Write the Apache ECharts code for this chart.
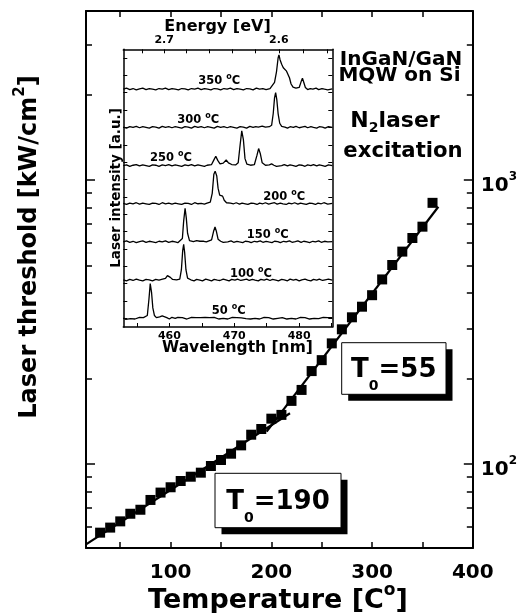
<!DOCTYPE html>
<html>
<head>
<meta charset="utf-8">
<script src="https://cdn.jsdelivr.net/npm/echarts@6/dist/echarts.min.js"></script>
<style>
  html, body { margin: 0; padding: 0; background: #fff; }
  #chart { width: 520px; height: 613px; }
</style>
</head>
<body>
<div id="chart"></div>
<script>
// ---- Laser threshold vs temperature ----
const temperatures = [30, 40, 50, 60, 70, 80, 90, 100, 110, 120, 130, 140, 150, 160, 170, 180, 190,
                      200, 210, 220, 230, 240, 250, 260, 270, 280, 290, 300, 310, 320, 330, 340, 350, 360];
const thresholds = [57.3, 59.7, 62.8, 66.8, 69.0, 74.7, 79.3, 82.8, 87.1, 90.2, 93.2, 98.4, 103.3, 108.7, 116.3, 126.8, 132.8,
                    144.4, 148.9, 166.8, 182.3, 212.4, 232.1, 265.9, 298, 328.5, 358, 393, 446.6, 502, 559.6, 625, 685, 831];
// exponential fits (straight on the log axis), given by their end points
const fitLowT  = [[16, 52.1], [218.5, 150.9]];   // T0 = 190
const fitHighT = [[195.3, 130], [365.8, 805]];   // T0 = 55

const tempTicks  = [50, 100, 150, 200, 250, 300, 350, 400];
const tempLabels = [100, 200, 300, 400];
const thrMajor   = [100, 1000];
const thrMinor   = [60, 70, 80, 90, 200, 300, 400, 500, 600, 700, 800, 900, 2000, 3000];

// ---- Inset: lasing spectra, stacked ----
const spectrumTemps = [50, 100, 150, 200, 250, 300, 350];
const spec50 = [[452.9,0.01],[453.3,-0.03],[453.6,0.02],[454.0,-0.01],[454.3,0.03],[454.7,-0.02],[455.0,0.01],[455.4,0.03],[455.7,-0.01],[456.0,0.02],[456.3,0.01],[456.6,0.08],[456.85,0.55],[457.05,1.0],[457.25,0.75],[457.45,0.3],[457.7,0.08],[458.0,0.02],[458.5,0.04],[458.9,0.07],[459.2,0.06],[459.6,0.02],[460.0,-0.02],[460.4,0.03],[460.9,0.00],[461.3,0.03],[461.6,-0.02],[462.0,0.02],[462.3,0.03],[462.7,-0.02],[463.0,0.01],[463.4,0.03],[463.7,-0.01],[464.1,0.02],[464.4,-0.03],[464.8,0.02],[465.1,0.00],[465.5,0.03],[465.8,-0.02],[466.2,0.02],[466.5,-0.01],[466.9,0.03],[467.2,0.00],[467.6,-0.02],[467.9,0.02],[468.3,0.00],[468.6,0.03],[469.0,-0.02],[469.3,0.01],[469.7,0.03],[470.0,-0.01],[470.4,0.02],[470.7,-0.02],[471.1,0.01],[471.4,0.03],[471.8,-0.01],[472.1,0.02],[472.5,-0.02],[472.8,0.03],[473.2,0.00],[473.5,0.02],[473.9,-0.02],[474.2,0.01],[474.6,0.03],[474.9,-0.01],[475.3,0.02],[475.6,0.00],[476.0,-0.02],[476.3,0.03],[476.7,0.00],[477.0,-0.02],[477.4,0.02],[477.7,0.01],[478.1,-0.02],[478.4,0.03],[478.8,0.00],[479.1,0.02],[479.5,-0.02],[479.8,0.01],[480.2,0.03],[480.5,-0.01],[480.9,0.02],[481.2,0.00],[481.6,-0.02],[481.9,0.02],[482.3,0.00],[482.6,0.03],[483.0,-0.01],[483.3,0.01],[483.7,0.03],[484.0,-0.02],[484.4,0.02],[484.7,0.00],[485.1,0.02]];
const spec100 = [[452.9,0.01],[453.4,-0.02],[453.9,0.02],[454.4,-0.01],[454.9,0.03],[455.4,0.00],[455.9,-0.02],[456.4,0.02],[456.9,0.01],[457.4,-0.02],[457.9,0.02],[458.4,0.00],[458.8,0.02],[459.4,0.05],[459.7,0.13],[459.9,0.16],[460.15,0.08],[460.5,0.02],[461.1,0.01],[461.6,0.03],[461.85,0.3],[462.05,0.85],[462.2,1.03],[462.35,0.8],[462.55,0.3],[462.8,0.06],[463.3,0.01],[463.8,-0.02],[464.2,0.02],[464.7,0.00],[465.1,-0.02],[465.6,0.03],[466.0,0.01],[466.5,-0.02],[466.9,0.02],[467.4,0.00],[467.8,-0.01],[468.3,0.03],[468.7,0.01],[469.2,-0.02],[469.6,0.02],[470.1,0.00],[470.5,0.03],[471.0,-0.01],[471.4,0.01],[471.9,0.03],[472.3,-0.01],[472.8,0.02],[473.2,0.00],[473.7,-0.02],[474.1,0.02],[474.6,0.00],[475.0,0.03],[475.5,-0.01],[475.9,0.02],[476.4,0.00],[476.8,-0.02],[477.3,0.02],[477.7,0.01],[478.2,-0.02],[478.6,0.03],[479.1,0.00],[479.5,0.02],[480.0,-0.02],[480.4,0.01],[480.9,0.03],[481.3,0.00],[481.8,-0.02],[482.2,0.02],[482.7,0.00],[483.1,0.03],[483.6,-0.01],[484.0,0.01],[484.5,0.03],[485.1,0.00]];
const spec150 = [[452.9,0.00],[453.4,0.03],[453.9,-0.01],[454.4,0.02],[454.9,-0.02],[455.4,0.01],[455.9,0.03],[456.4,-0.01],[456.9,0.02],[457.4,0.00],[457.9,-0.02],[458.4,0.02],[458.9,0.00],[459.4,0.03],[459.9,-0.01],[460.4,0.02],[460.9,0.00],[461.3,-0.02],[461.6,0.01],[462.0,0.1],[462.2,0.6],[462.42,0.97],[462.6,0.7],[462.8,0.25],[463.1,0.04],[463.7,0.01],[464.2,0.04],[464.4,0.06],[464.7,0.02],[465.0,-0.01],[465.3,0.02],[465.7,0.00],[466.0,0.02],[466.5,0.06],[466.8,0.3],[467.03,0.43],[467.25,0.3],[467.5,0.08],[467.9,0.02],[468.3,-0.01],[468.6,0.02],[469.0,0.00],[469.5,0.03],[469.9,-0.01],[470.4,0.02],[470.8,0.00],[471.3,-0.02],[471.7,0.02],[472.2,0.01],[472.6,-0.02],[473.1,0.02],[473.5,0.00],[474.0,0.03],[474.4,-0.01],[474.9,0.02],[475.3,0.00],[475.8,-0.02],[476.2,0.02],[476.7,0.01],[477.1,-0.02],[477.6,0.02],[478.0,0.00],[478.5,0.03],[478.9,-0.01],[479.4,0.01],[479.8,0.03],[480.3,-0.01],[480.7,0.02],[481.2,0.00],[481.6,-0.02],[482.1,0.02],[482.5,0.00],[483.0,0.03],[483.4,-0.01],[483.9,0.02],[484.4,0.00],[485.1,0.01]];
const spec200 = [[452.9,0.01],[453.4,-0.02],[453.9,0.02],[454.4,0.00],[454.9,0.03],[455.4,-0.01],[455.9,0.02],[456.4,0.00],[456.9,-0.02],[457.4,0.02],[457.9,0.01],[458.4,-0.02],[458.9,0.03],[459.4,0.00],[459.9,0.02],[460.4,-0.01],[460.9,0.02],[461.4,0.00],[461.9,-0.02],[462.4,0.02],[462.9,0.01],[463.4,-0.02],[463.9,0.03],[464.4,0.00],[464.9,0.01],[465.4,-0.01],[465.8,0.02],[466.3,0.05],[466.6,0.3],[466.85,0.85],[467.05,0.94],[467.3,0.8],[467.5,0.45],[467.75,0.25],[468.0,0.2],[468.2,0.22],[468.45,0.1],[468.8,0.03],[469.1,-0.01],[469.4,0.02],[469.9,0.00],[470.3,0.03],[470.8,-0.01],[471.2,0.02],[471.7,0.00],[472.1,-0.02],[472.6,0.02],[473.0,0.01],[473.5,-0.02],[473.9,0.02],[474.4,0.00],[474.8,0.03],[475.3,-0.01],[475.7,0.01],[476.2,0.03],[476.6,-0.01],[477.1,0.02],[477.5,0.00],[478.0,-0.02],[478.4,0.02],[478.9,0.00],[479.3,0.03],[479.8,-0.01],[480.2,0.02],[480.7,0.00],[481.1,-0.02],[481.6,0.02],[482.0,0.01],[482.5,-0.02],[482.9,0.02],[483.4,0.00],[483.8,0.03],[484.4,-0.01],[485.1,0.01]];
const spec250 = [[452.9,0.00],[453.4,0.02],[453.9,-0.02],[454.4,0.01],[454.9,0.03],[455.4,-0.01],[455.9,0.02],[456.4,0.00],[456.9,-0.02],[457.4,0.02],[457.9,0.01],[458.4,-0.02],[458.9,0.02],[459.4,0.00],[459.9,0.03],[460.4,-0.01],[460.9,0.02],[461.4,0.00],[461.9,-0.02],[462.4,0.02],[462.9,0.00],[463.4,0.03],[463.9,-0.01],[464.4,0.02],[464.9,0.00],[465.4,-0.02],[465.8,0.01],[466.5,0.03],[466.9,0.18],[467.15,0.27],[467.45,0.15],[467.8,0.05],[468.3,0.07],[468.75,0.16],[469.1,0.08],[469.6,0.03],[470.2,0.02],[470.6,0.08],[470.9,0.6],[471.15,1.0],[471.4,0.75],[471.65,0.2],[471.95,0.04],[472.5,0.01],[473.1,0.03],[473.5,0.3],[473.75,0.49],[474.0,0.35],[474.3,0.08],[474.8,0.01],[475.4,0.02],[475.75,0.05],[476.1,0.01],[476.5,-0.02],[476.8,0.02],[477.3,0.00],[477.7,0.03],[478.2,-0.01],[478.6,0.02],[479.1,0.00],[479.5,-0.02],[480.0,0.02],[480.4,0.01],[480.9,-0.02],[481.3,0.02],[481.8,0.00],[482.2,0.03],[482.7,-0.01],[483.1,0.02],[483.6,0.00],[484.0,-0.02],[484.5,0.02],[485.1,0.00]];
const spec300 = [[452.9,0.01],[453.4,-0.02],[453.9,0.02],[454.4,0.00],[454.9,0.03],[455.4,-0.01],[455.9,0.02],[456.4,0.00],[456.9,-0.02],[457.4,0.02],[457.9,0.01],[458.4,-0.02],[458.9,0.03],[459.4,0.00],[459.9,0.02],[460.4,-0.01],[460.9,0.02],[461.4,0.00],[461.9,-0.02],[462.4,0.02],[462.9,0.01],[463.4,-0.02],[463.9,0.03],[464.4,0.00],[464.9,0.02],[465.4,-0.01],[465.9,0.02],[466.4,0.00],[466.9,-0.02],[467.4,0.03],[467.9,0.00],[468.4,0.02],[468.9,-0.01],[469.4,0.02],[469.9,0.00],[470.4,-0.02],[470.9,0.02],[471.4,0.01],[471.9,-0.02],[472.4,0.03],[472.9,0.00],[473.3,0.02],[473.7,0.01],[474.3,0.04],[474.8,0.01],[475.4,0.02],[475.75,0.06],[476.0,0.4],[476.2,0.85],[476.37,1.0],[476.55,0.8],[476.75,0.4],[477.0,0.12],[477.3,0.03],[477.8,0.01],[478.2,-0.02],[478.6,0.02],[479.1,0.00],[479.5,0.03],[480.0,-0.01],[480.4,0.01],[480.9,0.03],[481.3,-0.01],[481.8,0.02],[482.2,0.00],[482.7,-0.02],[483.1,0.02],[483.6,0.01],[484.0,-0.02],[484.5,0.02],[485.1,0.00]];
const spec350 = [[452.9,0.00],[453.4,0.03],[453.9,-0.01],[454.4,0.02],[454.9,-0.02],[455.4,0.01],[455.9,0.03],[456.4,-0.01],[456.9,0.02],[457.4,0.00],[457.9,-0.02],[458.4,0.02],[458.9,0.00],[459.4,0.03],[459.9,-0.01],[460.4,0.02],[460.9,0.00],[461.4,-0.02],[461.9,0.02],[462.4,0.01],[462.9,-0.02],[463.4,0.02],[463.9,0.00],[464.4,0.03],[464.9,-0.01],[465.4,0.02],[465.9,0.00],[466.4,-0.02],[466.9,0.02],[467.4,0.01],[467.9,-0.02],[468.4,0.02],[468.9,0.00],[469.4,0.03],[469.9,-0.01],[470.4,0.02],[470.9,0.00],[471.4,-0.02],[471.9,0.02],[472.4,0.01],[472.9,-0.02],[473.4,0.03],[473.9,0.00],[474.4,0.02],[474.9,-0.01],[475.5,0.02],[475.8,0.06],[476.2,0.2],[476.5,0.5],[476.75,0.9],[476.88,0.99],[477.05,0.85],[477.3,0.72],[477.55,0.62],[477.8,0.57],[478.05,0.52],[478.25,0.48],[478.5,0.33],[478.75,0.15],[479.05,0.06],[479.5,0.03],[480.0,0.05],[480.3,0.22],[480.5,0.32],[480.7,0.2],[480.95,0.05],[481.3,-0.01],[481.7,0.02],[482.1,0.00],[482.6,0.03],[483.0,-0.01],[483.5,0.02],[483.9,0.00],[484.4,-0.02],[485.1,0.01]];
const spectra = [spec50, spec100, spec150, spec200, spec250, spec300, spec350];
const stackStep = 1.1;

const wavelengthTicks  = [455, 460, 465, 470, 475, 480, 485];
const wavelengthLabels = [460, 470, 480];
const energyTicks  = [2.56, 2.58, 2.60, 2.62, 2.64, 2.66, 2.68, 2.70, 2.72];
const energyLabels = [2.6, 2.7];
const insetYTicks = [0, 0.5, 1, 1.5, 2, 2.5, 3, 3.5, 4, 4.5, 5, 5.5, 6, 6.5, 7, 7.5];

const HC = 1239.84; // photon energy [eV] x wavelength [nm]
const F = 'DejaVu Sans';
const BLACK = '#000';

const chart = echarts.init(document.getElementById('chart'), null, { renderer: 'canvas' });

function frameAxis(extra) {
  return Object.assign({
    axisLine: { show: true, onZero: false, lineStyle: { color: BLACK, width: 2 } },
    axisTick: { show: true, inside: true, length: 6, lineStyle: { color: BLACK, width: 1.5 } },
    axisLabel: { show: false },
    splitLine: { show: false }
  }, extra);
}
function tickOnlyAxis(extra) {
  return Object.assign({
    axisLine: { show: false },
    axisLabel: { show: false },
    splitLine: { show: false }
  }, extra);
}

const thrLabelRich = {
  m: { fontSize: 20, fontFamily: F, fontWeight: 'bold', color: BLACK, padding: [11, 0, 0, 0] },
  s: { fontSize: 12, fontFamily: F, fontWeight: 'bold', color: BLACK, padding: [0, 0, 7, 0] }
};

function text(x, y, str, size, opt) {
  opt = opt || {};
  return {
    type: 'text', x: x, y: y, rotation: opt.rotation || 0, silent: true, z: 20,
    style: {
      text: str, fill: BLACK, fontFamily: F, fontWeight: 'bold', fontSize: size,
      align: opt.align || 'center', verticalAlign: 'middle', rich: opt.rich
    }
  };
}
function supRich(size, raise) {
  return { s: { fontSize: size, fontFamily: F, fontWeight: 'bold', fill: BLACK, padding: [0, 0, raise, 0] } };
}
function subRich(size, drop) {
  return { b: { fontSize: size, fontFamily: F, fontWeight: 'bold', fill: BLACK, padding: [drop, 0, 0, 0] } };
}
function shadowBox(x, y, w, h, off) {
  return [
    { type: 'rect', silent: true, z: 18, shape: { x: x + off, y: y + off, width: w, height: h }, style: { fill: BLACK } },
    { type: 'rect', silent: true, z: 19, shape: { x: x, y: y, width: w, height: h }, style: { fill: '#fff', stroke: BLACK, lineWidth: 1 } }
  ];
}

const spectrumLabelPos = [[211.7, 311], [230, 274], [246.7, 235], [263.3, 197], [150, 158.5], [177.3, 120], [198.3, 81.5]];

const graphics = [
  // axis titles
  text(278, 601, 'Temperature [C{s|o}]', 27, { rich: supRich(17, 20) }),
  text(30, 247, 'Laser threshold [kW/cm{s|2}]', 24, { rotation: Math.PI / 2, rich: supRich(15, 20) }),
  // inset titles
  text(217.5, 27, 'Energy [eV]', 16),
  text(237.5, 348, 'Wavelength [nm]', 15.5),
  text(116, 188, 'Laser intensity [a.u.]', 13.5, { rotation: Math.PI / 2 }),
  // sample description
  text(401, 59.7, 'InGaN/GaN', 20),
  text(399.5, 76, 'MQW on Si', 20),
  text(395, 121.4, 'N{b|2}laser', 22, { rich: subRich(14, 13) }),
  text(403, 151.4, 'excitation', 21.2),
  ...shadowBox(341.7, 342.7, 104.3, 51.6, 6.5),
  text(393.8, 370.5, 'T{b|0}=55', 26, { rich: subRich(14, 31) }),
  ...shadowBox(215, 473.3, 126, 54.4, 6.5),
  text(278, 502.5, 'T{b|0}=190', 26, { rich: subRich(14, 31) })
];
spectrumTemps.forEach(function (t, k) {
  const p = spectrumLabelPos[k];
  graphics.push(text(p[0], p[1], t + ' {s|o}C', 11.5, { align: 'left', rich: supRich(8, 9) }));
});

const spectrumSeries = spectra.map(function (spec, k) {
  return {
    type: 'line', xAxisIndex: 2, yAxisIndex: 4, showSymbol: false, symbol: 'none',
    lineStyle: { color: BLACK, width: 1.3 }, z: 5,
    data: spec.map(function (p) { return [p[0], p[1] + k * stackStep]; })
  };
});

const option = {
  animation: false,
  backgroundColor: '#fff',
  grid: [
    { left: 86, right: 47, top: 11, bottom: 65 },
    { left: 123.3, right: 187.7, top: 49.3, bottom: 286 }
  ],
  xAxis: [
    frameAxis({ type: 'value', gridIndex: 0, position: 'bottom', min: 16, max: 400,
      axisTick: { show: true, inside: true, length: 6, customValues: tempTicks, lineStyle: { color: BLACK, width: 1.5 } },
      axisLabel: { show: true, customValues: tempLabels, margin: 15, color: BLACK, fontFamily: F, fontWeight: 'bold', fontSize: 20 } }),
    frameAxis({ type: 'value', gridIndex: 0, position: 'top', min: 16, max: 400,
      axisTick: { show: true, inside: true, length: 6, customValues: tempTicks, lineStyle: { color: BLACK, width: 1.5 } } }),
    frameAxis({ type: 'value', gridIndex: 1, position: 'bottom', min: 452.9, max: 485.1,
      axisLine: { show: true, onZero: false, lineStyle: { color: BLACK, width: 1.5 } },
      axisTick: { show: true, inside: true, length: 4, customValues: wavelengthTicks, lineStyle: { color: BLACK, width: 1 } },
      axisLabel: { show: true, customValues: wavelengthLabels, margin: 4, color: BLACK, fontFamily: F, fontWeight: 'bold', fontSize: 11 } }),
    frameAxis({ type: 'value', gridIndex: 1, position: 'top', min: 452.9, max: 485.1,
      axisLine: { show: true, onZero: false, lineStyle: { color: BLACK, width: 1.5 } },
      axisTick: { show: true, inside: true, length: 4, customValues: energyTicks.map(function (e) { return HC / e; }), lineStyle: { color: BLACK, width: 1 } },
      axisLabel: { show: true, customValues: energyLabels.map(function (e) { return HC / e; }), margin: 4,
        formatter: function (v) { return (HC / v).toFixed(1); },
        color: BLACK, fontFamily: F, fontWeight: 'bold', fontSize: 11 } })
  ],
  yAxis: [
    frameAxis({ type: 'log', gridIndex: 0, position: 'right', min: 50.6, max: 3937, logBase: 10,
      axisTick: { show: true, inside: true, length: 9, customValues: thrMajor, lineStyle: { color: BLACK, width: 1.5 } },
      axisLabel: { show: true, customValues: thrMajor, margin: 8,
        formatter: function (v) { return '{m|10}{s|' + Math.round(Math.log10(v)) + '}'; },
        rich: thrLabelRich } }),
    tickOnlyAxis({ type: 'log', gridIndex: 0, position: 'right', min: 50.6, max: 3937, logBase: 10,
      axisTick: { show: true, inside: true, length: 6, customValues: thrMinor, lineStyle: { color: BLACK, width: 1.5 } } }),
    frameAxis({ type: 'log', gridIndex: 0, position: 'left', min: 50.6, max: 3937, logBase: 10,
      axisTick: { show: true, inside: true, length: 9, customValues: thrMajor, lineStyle: { color: BLACK, width: 1.5 } } }),
    tickOnlyAxis({ type: 'log', gridIndex: 0, position: 'left', min: 50.6, max: 3937, logBase: 10,
      axisTick: { show: true, inside: true, length: 6, customValues: thrMinor, lineStyle: { color: BLACK, width: 1.5 } } }),
    frameAxis({ type: 'value', gridIndex: 1, position: 'left', min: -0.25, max: 7.75,
      axisLine: { show: true, onZero: false, lineStyle: { color: BLACK, width: 1.5 } },
      axisTick: { show: true, inside: true, length: 4, customValues: insetYTicks, lineStyle: { color: BLACK, width: 1 } } }),
    frameAxis({ type: 'value', gridIndex: 1, position: 'right', min: -0.25, max: 7.75,
      axisLine: { show: true, onZero: false, lineStyle: { color: BLACK, width: 1.5 } },
      axisTick: { show: true, inside: true, length: 4, customValues: insetYTicks, lineStyle: { color: BLACK, width: 1 } } })
  ],
  series: [
    { type: 'line', xAxisIndex: 0, yAxisIndex: 0, data: fitLowT, showSymbol: false, symbol: 'none',
      lineStyle: { color: BLACK, width: 2.2 }, z: 3 },
    { type: 'line', xAxisIndex: 0, yAxisIndex: 0, data: fitHighT, showSymbol: false, symbol: 'none',
      lineStyle: { color: BLACK, width: 2.2 }, z: 3 },
    { type: 'scatter', xAxisIndex: 0, yAxisIndex: 0, symbol: 'rect', symbolSize: 10,
      itemStyle: { color: BLACK, opacity: 1 }, z: 4,
      data: temperatures.map(function (t, i) { return [t, thresholds[i]]; }) }
  ].concat(spectrumSeries),
  graphic: { elements: graphics }
};

chart.setOption(option);
</script>
</body>
</html>
